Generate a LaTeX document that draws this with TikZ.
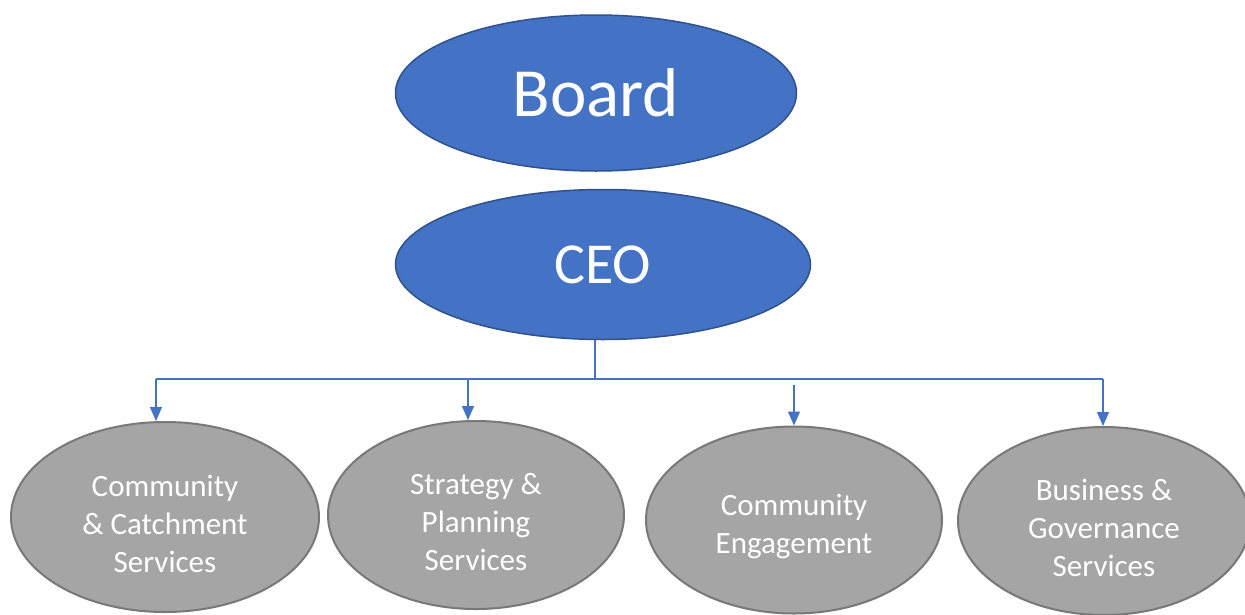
\documentclass[tikz,border=0pt]{standalone}
\usepackage{fontspec}
\setmainfont{Carlito}
\usetikzlibrary{shapes, arrows.meta, calc, positioning}
\definecolor{boardblue}{HTML}{4472C4}
\definecolor{boardedge}{HTML}{2F528F}
\definecolor{unitgrey}{HTML}{A5A5A5}
\definecolor{unitedge}{HTML}{787878}
\newcommand{\unitlift}{\rule{0pt}{35pt}}
\tikzstyle{head} = [ellipse, draw=boardedge, fill=boardblue, line width=1.5pt, text=white, inner sep=0pt]
\tikzstyle{unit} = [ellipse, draw=unitedge, fill=unitgrey, line width=2pt, text=white, align=center, inner sep=0pt, minimum width=296pt, minimum height=188pt, font=\fontsize{31}{38}\selectfont]
\tikzstyle{link} = [draw=boardblue, line width=1.2pt]
\tikzstyle{drop} = [link, -{Triangle[width=12pt, length=14pt]}]

\begin{document}
\begin{tikzpicture}[x=1pt, y=-1pt]
                        \clip (0,0) rectangle (1245,614);
                        \node[head, minimum width=401pt, minimum height=156pt, font=\fontsize{69}{83}\selectfont](board) at (596,93){Board};
                        \node[head, minimum width=415pt, minimum height=150pt, font=\fontsize{58}{70}\selectfont, below=17pt of board, xshift=7pt](ceo){CEO};
                        \node[unit, minimum width=308pt, minimum height=190pt](catch) at (165,517){\unitlift Community\\\& Catchment\\Services};
                        \node[unit](strat) at (476,515){\unitlift Strategy \&\\Planning\\Services};
                        \node[unit, minimum height=187pt](engage) at (794,520){\unitlift Community\\Engagement};
                        \node[unit, minimum width=292pt](govern) at (1104,521){\unitlift Business \&\\Governance\\Services};
                        \coordinate (busl) at (156,379);
                        \coordinate (busr) at (1103,379);
                        \coordinate (busm) at (595,379);
                        \coordinate (split) at (468,379);
                        \coordinate (gap) at (794,385);
                        \draw[link] (busm |- ceo.south) -- (busm);
                        \draw[link] (busl) -- (busr);
                        \draw[drop] (busl) -- (busl |- catch.north);
                        \draw[drop] (split) -- (split |- strat.north);
                        \draw[drop] (gap) -- (engage.north);
                        \draw[drop] (busr) -- (busr |- govern.north);
                    \end{tikzpicture}
\end{document}
